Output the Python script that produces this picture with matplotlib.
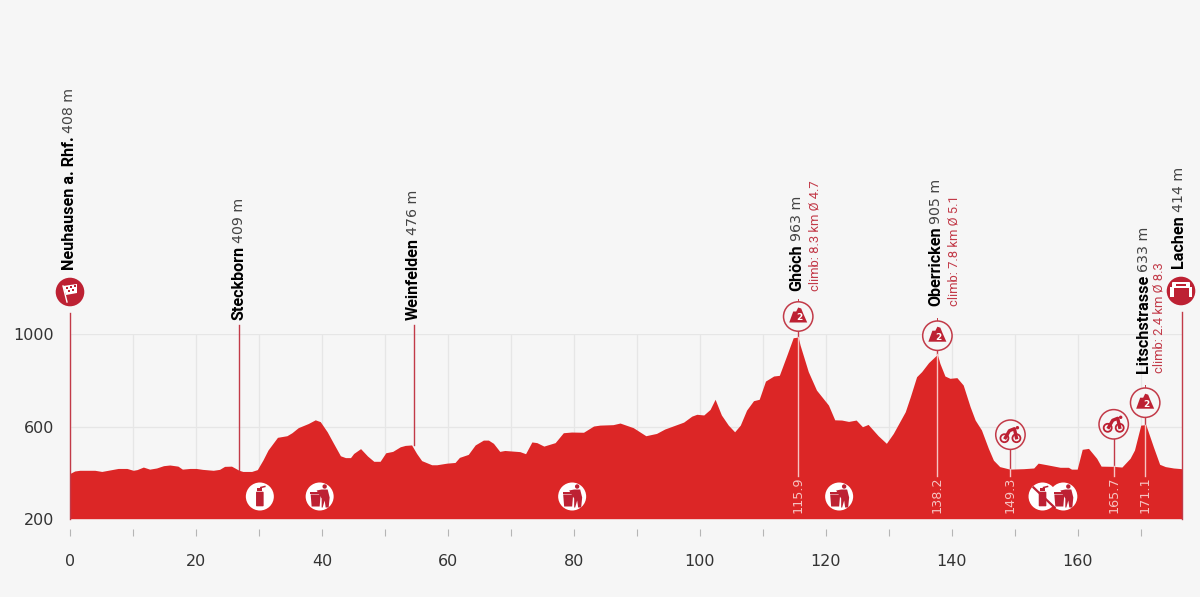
import matplotlib
matplotlib.use("Agg")
from matplotlib import pyplot as plt
from matplotlib.patches import Circle, Polygon, Rectangle, FancyBboxPatch

BG = "#f6f6f6"
RED = "#dc2626"
DARK_RED = "#bd2133"
LINE_RED = "#c23a48"
PINK = "#f6c4c2"

km = [0, 0.7, 1.5, 3.9, 5, 7.6, 9, 10, 10.6, 11.6, 12.6, 13.7, 14.8, 15.8, 17.1, 17.8, 19, 20, 21, 22.7,
      23.7, 24.5, 25.6, 26.8, 27.4, 28.8, 29.7, 30.6, 31.4, 32.9, 34.4, 35.2, 36.2, 37.8, 38.9, 39.7,
      40.8, 41.8, 42.9, 43.7, 44.5, 45, 46.1, 47.2, 48.2, 49.2, 50.1, 51.2, 52.4, 53.2, 54.2, 55, 55.8,
      57.4, 58.2, 59.8, 61.1, 61.8, 63.2, 64.3, 65.6, 66.4, 67.2, 68.2, 69, 71.4, 72.3, 73.3, 74.1, 75.2,
      77, 78.3, 79.6, 81.5, 83.1, 84.1, 86.2, 87.3, 89.4, 91.4, 93.1, 94.4, 97.4, 98.7, 99.5, 100.6,
      101.6, 102.4, 103.4, 104.5, 105.5, 106.4, 107.4, 108.5, 109.4, 110.4, 111.7, 112.6, 113.8, 114.8,
      115.6, 115.9, 117.2, 118.5, 120.4, 121.4, 122.5, 123.6, 124.8, 125.8, 126.7, 128.3, 129.6, 130.7,
      132.6, 133.4, 134.4, 135.2, 136.3, 137.7, 138.1, 138.9, 139.7, 140.8, 141.8, 142.9, 143.7, 144.7,
      145.8, 146.6, 147.6, 149.2, 151.4, 153, 153.7, 155.1, 157.2, 158.5, 159, 159.9, 160.7, 161.7, 163,
      163.7, 165.7, 167, 168.3, 169, 170, 170.8, 172, 173, 173.9, 175.2, 176.5]
elevation = [397, 407, 410, 410, 405, 418, 418, 410, 413, 424, 415, 420, 430, 433, 428, 415, 418, 418, 414, 410,
             414, 427, 428, 410, 405, 405, 413, 455, 498, 553, 560, 573, 595, 613, 629, 621,
             577, 527, 473, 465, 465, 483, 504, 472, 449, 449, 486, 492, 512, 518, 520, 483, 452,
             434, 434, 441, 444, 466, 479, 520, 541, 541, 527, 492, 496, 491, 482, 533, 530, 515,
             530, 573, 576, 575, 602, 606, 608, 615, 595, 560, 570, 589, 619, 645, 653, 650,
             674, 718, 650, 606, 577, 606, 671, 712, 718, 797, 819, 822, 910, 985,
             988, 953, 838, 758, 693, 629, 628, 622, 628, 599, 609, 560, 527, 570,
             664, 729, 816, 838, 877, 913, 874, 819, 809, 812, 780, 686, 628, 585,
             505, 454, 426, 415, 417, 420, 441, 434, 423, 423, 415, 415, 501, 505, 462,
             428, 427, 424, 462, 498, 606, 608, 512, 436, 426, 420, 417]

x_ticks = list(range(0, 180, 10))
x_tick_labels = [str(t) if t % 20 == 0 else "" for t in x_ticks]
y_ticks = [200, 600, 1000]

town_km = [0, 26.8, 54.6, 176.5]
town_names = ["Neuhausen a. Rhf.", "Steckborn", "Weinfelden", "Lachen"]
town_heights = ["408 m", "409 m", "476 m", "414 m"]

climb_km = [115.6, 137.7, 170.7]
climb_names = ["Ghöch", "Oberricken", "Litschstrasse"]
climb_heights = ["963 m", "905 m", "633 m"]
climb_infos = ["climb: 8.3 km Ø 4.7", "climb: 7.8 km Ø 5.1", "climb: 2.4 km Ø 8.3"]
climb_labels = ["115.9", "138.2", "171.1"]

sprint_km = [149.3, 165.7]
sprint_labels = ["149.3", "165.7"]
bottle_km = [30.1, 154.4]
bin_km = [39.6, 79.7, 122.1, 157.7]

W, H = 1200, 597
plt.rcParams["font.family"] = ["DejaVu Sans"]
fig = plt.figure(figsize=(W / 100, H / 100), dpi=100, facecolor=BG)

# real axes: km 0 sits at x=70.3px, 200 m at y=518.7px, 1000 m at y=334.3px
left, right, bottom, top = 70.3, 1181.7, 518.7, 334.3
ax = fig.add_axes([left / W, 1 - bottom / H, (right - left) / W, (bottom - top) / H])
ax.set_facecolor("none")
ax.set_xlim(0, 176.5)
ax.set_ylim(200, 1000)
for name in ["top", "left", "right"]:
    ax.spines[name].set_visible(False)
ax.spines["bottom"].set_position(("outward", 7.4))
ax.spines["bottom"].set_visible(False)
ax.set_xticks(x_ticks, x_tick_labels)
ax.set_yticks(y_ticks)
ax.tick_params(axis="x", length=5, width=0.8, color="#b5b5b5", pad=13, labelsize=11.5, labelcolor="#333333")
ax.tick_params(axis="y", length=0, pad=11.5, labelsize=11.5, labelcolor="#333333")
ax.grid(True, color="#e6e6e6", lw=0.9, zorder=0)
ax.set_axisbelow(True)
ax.fill_between(km, 200, elevation, color=RED, lw=0, zorder=2)

# overlay in pixel coordinates for the roadbook icons and rotated texts
ov = fig.add_axes([0, 0, 1, 1])
ov.set_xlim(0, W)
ov.set_ylim(H, 0)
ov.axis("off")


def km_px(value):
    return ax.transData.transform((value, 200))[0]


def elev_px(value):
    return H - ax.transData.transform((0, value))[1]


def profile_px(pos):
    return elev_px(elevation[km.index(min(km, key=lambda k: abs(k - pos)))])


def rotated(x, y, parts):
    # parts are stacked upwards from y, each one starts where the last one ended
    renderer = fig.canvas.get_renderer()
    for text, family, weight, size, color, gap in parts:
        t = ov.text(x, y, text, rotation=90, ha="center", va="bottom", family=family, weight=weight,
                    fontsize=size, color=color)
        y = H - t.get_window_extent(renderer).y1 - gap


def big_circle(x, y, glyph):
    ov.add_patch(Circle((x, y), 14.3, fc=DARK_RED, ec="none", zorder=6))
    glyph(x, y)


def flag(x, y):
    ov.add_patch(Polygon([(x - 7, y - 6), (x + 7, y - 8), (x + 7, y + 1), (x - 4, y + 3)], fc="white", ec="none", zorder=7))
    for dx, dy in [(-4, -5), (0, -6), (4, -7), (-2, -2), (2, -3)]:
        ov.add_patch(Rectangle((x + dx, y + dy), 2, 2, fc=DARK_RED, ec="none", zorder=8))
    ov.plot([x - 7, x - 3], [y - 6, y + 10], color="white", lw=1, zorder=7)


def arch(x, y):
    ov.add_patch(FancyBboxPatch((x - 8, y - 8), 16, 4, boxstyle="round,pad=1", fc="white", ec="none", zorder=7))
    ov.add_patch(Rectangle((x - 11, y - 4), 3.5, 10, fc="white", ec="none", zorder=7))
    ov.add_patch(Rectangle((x + 7.5, y - 4), 3.5, 10, fc="white", ec="none", zorder=7))
    ov.add_patch(Rectangle((x - 5, y - 7), 10, 1.5, fc=DARK_RED, ec="none", zorder=8))


def ring(x, y):
    ov.add_patch(Circle((x, y), 14.7, fc=BG, ec=LINE_RED, lw=1.1, zorder=6))


def mountain(x, y):
    ring(x, y)
    ov.add_patch(Polygon([(x - 9, y + 6), (x - 5, y - 5), (x - 2, y - 5), (x, y - 9), (x + 3, y - 8), (x + 5, y - 3), (x + 9, y + 6)],
                         fc=DARK_RED, ec="none", zorder=7))
    ov.text(x + 1, y + 1.5, "2", color="white", fontsize=6.5, weight="bold", ha="center", va="center", zorder=8)


def sprint(x, y):
    ring(x, y)
    ov.add_patch(Circle((x - 6, y + 3.5), 4, fc="none", ec=DARK_RED, lw=1.3, zorder=7))
    ov.add_patch(Circle((x + 6, y + 3.5), 4, fc="none", ec=DARK_RED, lw=1.3, zorder=7))
    ov.plot([x - 5, x - 1, x + 4, x + 6], [y + 3, y - 4, y - 6, y + 3], color=DARK_RED, lw=2.4, zorder=7)
    ov.add_patch(Circle((x + 7, y - 7), 1.7, fc=DARK_RED, ec="none", zorder=7))


def bottle(x, y, crossed=False):
    ov.add_patch(Circle((x, y), 14, fc="white", ec="none", zorder=5))
    ov.add_patch(FancyBboxPatch((x - 3, y - 4), 6, 13, boxstyle="round,pad=0.8", fc=DARK_RED, ec="none", zorder=6))
    ov.add_patch(Rectangle((x - 2.5, y - 9), 5, 3.5, fc=DARK_RED, ec="none", zorder=6))
    ov.plot([x + 1, x + 5], [y - 9, y - 10], color=DARK_RED, lw=1.1, zorder=6)
    if crossed:
        ov.plot([x - 9, x + 12], [y - 9, y + 11], color=DARK_RED, lw=1.6, zorder=7)


def trash(x, y):
    ov.add_patch(Circle((x, y), 14, fc="white", ec="none", zorder=4))
    ov.add_patch(Polygon([(x - 9, y - 2), (x + 1, y - 2), (x, y + 10), (x - 8, y + 10)], fc=DARK_RED, ec="none", zorder=6))
    ov.add_patch(Rectangle((x - 9.5, y - 5), 11, 2, fc=DARK_RED, ec="none", zorder=6))
    ov.add_patch(Circle((x + 5, y - 10), 2.2, fc=DARK_RED, ec="none", zorder=6))
    ov.add_patch(Polygon([(x + 2, y - 7), (x + 8, y - 7), (x + 10, y + 1), (x + 9, y + 11), (x + 6, y + 11), (x + 5, y + 4),
                          (x + 3, y + 11), (x + 2, y + 11), (x + 2, y + 2), (x - 3, y - 6)],
                         fc=DARK_RED, ec="none", zorder=6))


NAME_FONT = "Roboto"
NUM_FONT = "DejaVu Sans"

# towns
name_bottoms = [270, 320, 320, 268]
line_tops = [313, 325, 325, 312]
text_x = [69, 239, 413, 1179]
for i, pos in enumerate(town_km):
    x = km_px(pos)
    ov.plot([x, x], [line_tops[i], profile_px(pos) if 0 < i < 3 else bottom], color=LINE_RED, lw=1, zorder=3)
    rotated(text_x[i], name_bottoms[i], [
        (town_names[i], NAME_FONT, "bold", 11.6, "black", 3),
        (town_heights[i], NUM_FONT, "normal", 10.2, "#444444", 0),
    ])
big_circle(70, 292, flag)
big_circle(1181, 291, arch)

# categorised climbs
climb_y = [316.5, 335.7, 402.7]
climb_name_bottoms = [291, 306.5, 373]
info_offsets = [16.7, 16.3, 14]
for i, pos in enumerate(climb_km):
    x = km_px(pos)
    y = climb_y[i]
    ov.plot([x, x], [y + 14, profile_px(pos)], color=LINE_RED, lw=1, zorder=3)
    ov.plot([x, x], [profile_px(pos), 476], color=PINK, lw=1, zorder=3)
    ov.plot([x, x], [y - 18, y - 14], color=LINE_RED, lw=0.7, zorder=3)
    mountain(x, y)
    ov.text(x, 513, climb_labels[i], rotation=90, ha="center", va="bottom", family=NUM_FONT,
            fontsize=9.2, color=PINK, zorder=4)
    rotated(x - 1.5, climb_name_bottoms[i], [
        (climb_names[i], NAME_FONT, "bold", 11.6, "black", 3),
        (climb_heights[i], NUM_FONT, "normal", 10.2, "#444444", 0),
    ])
    rotated(x + info_offsets[i], climb_name_bottoms[i], [(climb_infos[i], NAME_FONT, "normal", 9.4, LINE_RED, 0)])

# intermediate sprints
sprint_y = [434.7, 424.3]
for i, pos in enumerate(sprint_km):
    x = km_px(pos)
    y = sprint_y[i]
    ov.plot([x, x], [y + 14, profile_px(pos)], color=LINE_RED, lw=1, zorder=3)
    ov.plot([x, x], [profile_px(pos), 476], color=PINK, lw=1, zorder=3)
    sprint(x, y)
    ov.text(x, 513, sprint_labels[i], rotation=90, ha="center", va="bottom", family=NUM_FONT,
            fontsize=9.2, color=PINK, zorder=4)

# feed and waste zones
for i, pos in enumerate(bottle_km):
    bottle(km_px(pos), 496.5, crossed=i == 1)
for pos in bin_km:
    trash(km_px(pos), 496.5)

fig.savefig("out.png", dpi=100, facecolor=BG)
